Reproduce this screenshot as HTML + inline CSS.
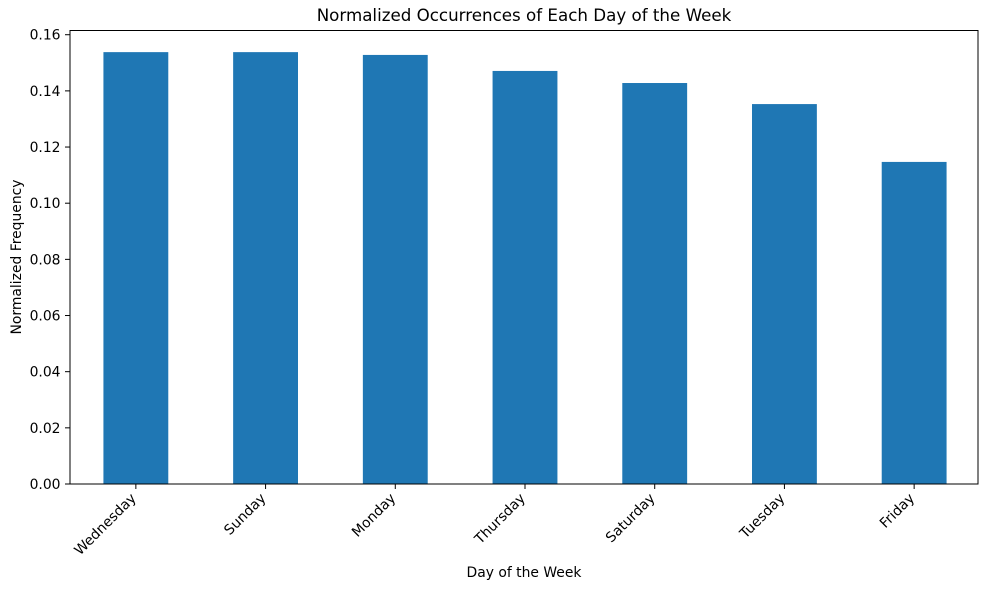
<!DOCTYPE html>
<html><head><meta charset="utf-8"><style>body{margin:0;background:#fff}svg{display:block;font-family:"DejaVu Sans","Liberation Sans",sans-serif}</style></head>
<body>
<svg id="chart" width="989" height="590">
<rect x="0" y="0" width="989" height="590" fill="#fff"/>
<text x="524" y="21" font-size="16.7" text-anchor="middle">Normalized Occurrences of Each Day of the Week</text>
<text x="524" y="577" font-size="13.9" text-anchor="middle">Day of the Week</text>
<text x="21" y="257" font-size="13.9" text-anchor="middle" transform="rotate(-90 21 257)">Normalized Frequency</text>
<g id="bars"></g><g id="yticks"></g><g id="xticks"></g>
<rect x="70" y="30.5" width="908" height="453.5" fill="none" stroke="#000" stroke-width="1"/>
</svg>
<script>
const categories = ["Wednesday","Sunday","Monday","Thursday","Saturday","Tuesday","Friday"];
const values = [0.1538,0.1538,0.1528,0.1471,0.1428,0.1353,0.1147];
const yTicks = [0,0.02,0.04,0.06,0.08,0.10,0.12,0.14,0.16];
const yTickLabels = ["0.00","0.02","0.04","0.06","0.08","0.10","0.12","0.14","0.16"];
const L=71,R=979,B=484,PX_PER=2808;
const NS="http://www.w3.org/2000/svg";
const band=(R-L)/categories.length;
function xc(i){return L+band*(i+0.5);}
function y(v){return B-v*PX_PER;}
function mk(t,a,p){const e=document.createElementNS(NS,t);for(const k in a)e.setAttribute(k,a[k]);p.appendChild(e);return e;}
const gb=document.getElementById('bars'),gy=document.getElementById('yticks'),gx=document.getElementById('xticks');
values.forEach((v,i)=>{
  const w=band*0.5;
  const r=mk('rect',{x:xc(i)-w/2,y:y(v),width:w,height:B-y(v),fill:'#1f77b4'},gb);
  
  
});
yTicks.forEach((t,i)=>{
  const l=mk('line',{x1:70-5,x2:70,y1:y(t),y2:y(t),stroke:'#000'},gy);
  
  
  const tx=mk('text',{x:60.5,y:y(t)+5,'font-size':13.9,'text-anchor':'end'},gy);
  tx.textContent=yTickLabels[i];
  
  
});
categories.forEach((c,i)=>{
  const x=xc(i);
  const l=mk('line',{x1:x,x2:x,y1:B,y2:B+5,stroke:'#000'},gx);
  
  
  const ax=x+1, ay=B+15;
  const tx=mk('text',{x:ax,y:ay,'font-size':13.9,'text-anchor':'end',transform:`rotate(-45 ${ax} ${ay})`},gx);
  tx.textContent=c;
  
  
});
</script>
</body></html>
